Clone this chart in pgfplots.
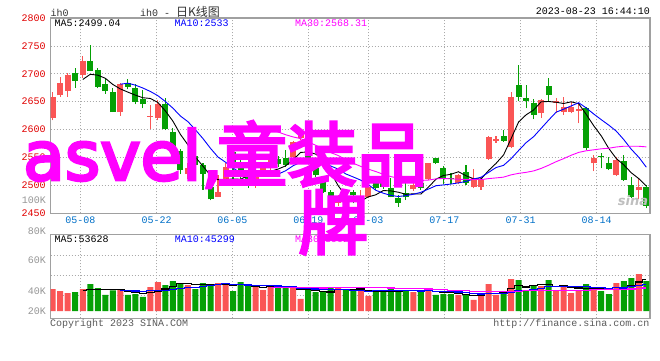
\documentclass[border=0pt]{standalone}
\usepackage{fontspec}
\usepackage{pgfplots}
\usepackage{pgfplotstable}
\pgfplotsset{compat=1.18}
\setmainfont{Liberation Mono}
\newfontfamily\cjk{Noto Sans CJK SC}
\newfontfamily\wmlat[FakeBold=4]{DejaVu Sans}
\newfontfamily\wmcjk[FakeBold=4]{Noto Sans CJK SC}
\newfontfamily\logofont{DejaVu Sans}
\definecolor{cred}{RGB}{250,85,85}
\definecolor{cgreen}{RGB}{5,160,5}
\definecolor{framegray}{RGB}{160,160,160}
\definecolor{gridgray}{RGB}{170,170,170}
\definecolor{tickred}{RGB}{225,0,0}
\definecolor{tickblue}{RGB}{0,112,200}
\definecolor{volgray}{RGB}{150,150,150}
\definecolor{mag}{RGB}{255,0,255}
\definecolor{mablue}{RGB}{0,0,255}
\definecolor{txtgray}{RGB}{90,90,90}

% candles: k open high low close
\pgfplotstableread{
k O H L C
1 2620 2668 2616.6 2658.5
2 2661.5 2694 2658.5 2684
3 2669 2701 2658.5 2697
5 2698 2731.5 2693 2722.5
10 2631.5 2684 2624.5 2682.5
14 2623.5 2643.5 2600.5 2625
15 2620 2653.7 2616.6 2646.5
19 2520 2540 2512 2531
23 2480 2519 2479 2489
24 2511 2541 2509 2533
28 2505 2528 2496 2522
29 2527.6 2538 2522 2533
30 2531 2550 2528 2545.5
33 2550.4 2580 2548 2578.3
34 2585 2600 2582 2597
39 2468 2482 2463 2477
42 2464.9 2491.8 2461.8 2479.7
43 2479.7 2500 2478 2497.7
49 2493 2504.3 2490 2500.7
51 2511 2541 2510 2540.7
55 2503.8 2520 2502 2518.6
57 2496.6 2528.8 2494.8 2512.7
58 2496.6 2515.6 2491.8 2509.7
59 2547.3 2588 2546 2587.3
60 2579.6 2588.5 2576.5 2583.1
62 2568.3 2667 2567 2659
66 2629.2 2654.8 2620.8 2653
68 2648.2 2656 2629.2 2651.8
69 2632 2659 2626.2 2641
70 2632 2650 2629.2 2641
71 2633.9 2647 2611.3 2636.4
73 2539.6 2554.5 2525.8 2549.6
76 2518.6 2551.4 2516.8 2545.5
79 2491.8 2512.7 2475 2497.7
}\redk
\pgfplotstableread{
k O H L C
4 2701 2710.5 2675 2687
6 2722.5 2752 2705 2705
7 2706 2711 2674 2676.5
8 2682.5 2692 2664.5 2669
9 2667 2675 2631.5 2631.5
11 2684 2690 2672 2676.5
12 2674 2681 2645 2649.5
13 2655.5 2670.5 2638 2645.3
16 2646.5 2656 2599 2600.5
17 2595 2602 2552 2558
18 2562 2566 2520 2527
20 2552.6 2556 2533 2536
21 2537 2540 2492 2520
22 2498 2519 2473 2475
25 2560 2565 2511 2540
26 2538 2549 2512 2518
27 2520 2525 2495 2508
31 2547 2553 2533 2538
32 2549 2563 2533.5 2536.6
35 2592 2598 2547 2550
36 2530.6 2545.5 2515 2518.6
37 2506.6 2510 2486 2488.7
38 2488 2492 2458 2462
40 2478 2482 2455 2460
41 2488.7 2491.8 2468 2482.8
44 2506 2510 2492 2496
45 2510 2513 2494 2497.7
46 2495.3 2512.7 2478.7 2479.2
47 2477.4 2482.7 2462 2468.5
48 2486.9 2503.8 2473.8 2478.7
50 2504.3 2509.7 2491.8 2495.3
52 2548.6 2550 2538 2539.6
53 2531.2 2534.8 2502.5 2512.7
54 2513.3 2521.7 2502.5 2511
56 2524.5 2536.5 2500.7 2504.8
61 2588.5 2599.3 2578 2579.6
63 2680 2716 2651.8 2659
64 2656 2680 2638.2 2651.8
65 2647.1 2654.3 2618.4 2626.2
67 2678 2692 2650 2662
72 2639.2 2640 2563.4 2566.5
74 2552.7 2557.5 2530.6 2550.4
75 2540.7 2551.4 2527.6 2528.8
77 2543.7 2554.5 2508.4 2509.7
78 2500.7 2515.6 2476.9 2478.7
80 2497.7 2500.7 2459 2463.1
}\greenk
% volume (thousand contracts)
\pgfplotstableread{
k V
1 37.3
2 33.9
3 30.5
5 37.3
10 37.3
14 40.7
15 49.2
19 44.1
23 47.5
24 45.8
28 40.7
29 35.6
30 42.4
33 42.4
34 20.4
39 39.0
42 39.0
43 25.5
49 32.2
51 37.3
55 27.2
57 18.7
58 27.2
59 45.8
60 27.2
62 54.3
66 42.4
68 35.6
69 40.7
70 30.5
71 35.6
73 40.7
76 47.5
79 62.8
}\redv
\pgfplotstableread{
k V
4 32.2
6 45.8
7 39.0
8 27.2
9 35.1
11 27.2
12 28.8
13 23.8
16 44.1
17 50.9
18 47.5
20 37.3
21 47.5
22 45.8
25 33.9
26 49.2
27 42.4
31 40.7
32 40.7
35 35.6
36 32.2
37 33.9
38 39.0
40 35.6
41 33.9
44 33.9
45 33.9
46 37.3
47 35.6
48 35.6
50 32.2
52 27.2
53 28.8
54 28.8
56 28.8
61 33.9
63 52.6
64 35.6
65 42.4
67 52.6
72 45.8
74 33.9
75 28.8
77 50.9
78 56.0
80 50.9
}\greenv

\pgfplotsset{
  sinaaxis/.style={
    scale only axis, width=599.3pt,
    xmin=0.734, xmax=80.49,
    axis line style={draw=framegray, line width=1.3pt},
    major tick length=0pt,
    grid=major,
    grid style={draw=gridgray, line width=0.8pt, dash pattern=on 1pt off 2pt},
    xtick={4.67,14.84,24.9,35.02,43.0,53.12,63.28,73.4},
    ticklabel style={font=\fontsize{10}{12}\selectfont},
  }
}

\begin{document}
\begin{tikzpicture}[font=\fontsize{10}{12}\selectfont]
\path[use as bounding box] (0,0) rectangle (660pt,360pt);
\fill[white] (0,0) rectangle (660pt,360pt);

% ---------- price panel ----------
\begin{axis}[sinaaxis,
  at={(50.7pt,146.7pt)}, anchor=south west, height=195.3pt,
  ymin=2450, ymax=2800,
  ytick={2450,2500,2550,2600,2650,2700,2750,2800},
  yticklabels={2450,2500,2550,2600,2650,2700,2750,2800},
  yticklabel style={text=tickred, xshift=-1.5pt},
  xticklabels={05-08,05-22,06-05,06-19,07-03,07-17,07-31,08-14},
  xticklabel style={text=tickblue},
]
% wicks
\addplot[draw=none, mark=none, forget plot, error bars/.cd, y dir=plus, y explicit, error mark=none,
  error bar style={draw=cred, line width=1.1pt}]
  table[x=k, y=L, y error expr=\thisrow{H}-\thisrow{L}] {\redk};
\addplot[draw=none, mark=none, forget plot, error bars/.cd, y dir=plus, y explicit, error mark=none,
  error bar style={draw=cgreen, line width=1.1pt}]
  table[x=k, y=L, y error expr=\thisrow{H}-\thisrow{L}] {\greenk};
% bodies
\addplot[draw=none, mark=none, forget plot, error bars/.cd, y dir=plus, y explicit, error mark=none,
  error bar style={draw=cred, line width=6pt}]
  table[x=k, y=O, y error expr=\thisrow{C}-\thisrow{O}] {\redk};
\addplot[draw=none, mark=none, forget plot, error bars/.cd, y dir=plus, y explicit, error mark=none,
  error bar style={draw=cgreen, line width=6pt}]
  table[x=k, y=C, y error expr=\thisrow{O}-\thisrow{C}] {\greenk};
% MA5
\addplot[black, line width=0.9pt, mark=none] coordinates {(5,2689.8)(6,2699.1)(7,2697.6)(8,2692)(9,2680.9)(10,2672.9)(11,2667.2)(12,2661.8)(13,2657.1)(14,2655.8)(15,2648.6)(16,2633.4)(17,2615.1)(18,2591.4)(19,2572.6)(20,2550.5)(21,2534.4)(22,2517.8)(23,2510.2)(24,2510.6)(25,2511.4)(26,2511)(27,2517.6)(28,2524.2)(29,2524.2)(30,2525.3)(31,2529.3)(32,2535)(33,2546.3)(34,2559.1)(35,2560)(36,2556.1)(37,2546.5)(38,2523.3)(39,2499.3)(40,2481.3)(41,2474.1)(42,2472.3)(43,2479.4)(44,2483.2)(45,2490.8)(46,2490.1)(47,2487.8)(48,2484)(49,2485)(50,2484.5)(51,2496.8)(52,2511)(53,2517.8)(54,2519.9)(55,2524.5)(56,2517.3)(57,2512)(58,2511.4)(59,2526.6)(60,2539.5)(61,2554.5)(62,2583.7)(63,2613.6)(64,2626.5)(65,2635.1)(66,2649.8)(67,2650.4)(68,2649)(69,2646.8)(70,2649.8)(71,2646.4)(72,2627.3)(73,2606.9)(74,2588.8)(75,2566.3)(76,2548.2)(77,2536.8)(78,2522.6)(79,2512.1)(80,2498.9)};
% MA10
\addplot[mablue, line width=0.9pt, mark=none] coordinates {(10,2681.35)(11,2683.15)(12,2679.7)(13,2674.53)(14,2668.33)(15,2660.73)(16,2650.28)(17,2638.43)(18,2624.23)(19,2614.18)(20,2599.53)(21,2583.88)(22,2566.43)(23,2550.8)(24,2541.6)(25,2530.95)(26,2522.7)(27,2517.7)(28,2517.2)(29,2517.4)(30,2518.35)(31,2520.15)(32,2526.31)(33,2535.24)(34,2541.64)(35,2542.64)(36,2542.7)(37,2540.77)(38,2534.77)(39,2529.17)(40,2520.62)(41,2515.1)(42,2509.41)(43,2501.35)(44,2491.25)(45,2486.02)(46,2482.08)(47,2480.06)(48,2481.73)(49,2484.1)(50,2487.63)(51,2493.42)(52,2499.41)(53,2500.91)(54,2502.41)(55,2504.5)(56,2507.06)(57,2511.48)(58,2514.58)(59,2523.24)(60,2532.02)(61,2535.91)(62,2547.85)(63,2562.48)(64,2576.56)(65,2587.32)(66,2602.14)(67,2617.07)(68,2631.28)(69,2636.65)(70,2642.44)(71,2648.12)(72,2638.87)(73,2627.93)(74,2617.79)(75,2608.05)(76,2597.3)(77,2582.07)(78,2564.76)(79,2550.43)(80,2532.64)};
% MA30
\addplot[mag, line width=0.9pt, mark=none] coordinates {(30,2599.74)(31,2595.73)(32,2590.81)(33,2586.86)(34,2583.86)(35,2578.11)(36,2571.89)(37,2565.63)(38,2558.73)(39,2553.58)(40,2546.17)(41,2539.71)(42,2534.05)(43,2529.13)(44,2524.83)(45,2519.87)(46,2515.83)(47,2512.84)(48,2511.23)(49,2510.22)(50,2508.87)(51,2509.56)(52,2511.71)(53,2512.5)(54,2511.77)(55,2511.05)(56,2510.61)(57,2510.77)(58,2510.36)(59,2512.17)(60,2513.42)(61,2514.81)(62,2518.89)(63,2521.58)(64,2523.41)(65,2525.95)(66,2530.43)(67,2536.2)(68,2542.53)(69,2548)(70,2554.03)(71,2559.15)(72,2562.04)(73,2563.77)(74,2565.59)(75,2566.62)(76,2568.83)(77,2570.21)(78,2570.21)(79,2570.11)(80,2569.03)};
\end{axis}

% ---------- volume panel ----------
\begin{axis}[sinaaxis,
  at={(50.7pt,41.7pt)}, anchor=south west, height=84pt,
  ymin=-12.39, ymax=130.2,
  ytick={26.0,59.9,93.8}, yticklabels={,,},
  xticklabels={,,,,,,,},
]
\addplot[ybar, bar width=6pt, bar shift=0pt, fill=cred, draw=none, forget plot] table[x=k, y=V] {\redv};
\addplot[ybar, bar width=6pt, bar shift=0pt, fill=cgreen, draw=none, forget plot] table[x=k, y=V] {\greenv};
\addplot[const plot mark mid, black, line width=1.1pt, mark=none] coordinates {(5,34.24)(6,35.94)(7,36.96)(8,36.3)(9,36.88)(10,36.88)(11,33.16)(12,31.12)(13,30.44)(14,31.56)(15,33.94)(16,37.32)(17,41.74)(18,46.48)(19,47.16)(20,44.78)(21,45.46)(22,44.44)(23,44.44)(24,44.78)(25,44.1)(26,44.44)(27,43.76)(28,42.4)(29,40.36)(30,42.06)(31,40.36)(32,40.02)(33,40.36)(34,37.32)(35,35.96)(36,34.26)(37,32.9)(38,32.22)(39,35.94)(40,35.94)(41,36.28)(42,37.3)(43,34.6)(44,33.58)(45,33.24)(46,33.92)(47,33.24)(48,35.26)(49,34.92)(50,34.58)(51,34.58)(52,32.9)(53,31.54)(54,30.86)(55,29.86)(56,28.16)(57,26.46)(58,26.14)(59,29.54)(60,29.54)(61,30.56)(62,37.68)(63,42.76)(64,40.72)(65,43.76)(66,45.46)(67,45.12)(68,41.72)(69,42.74)(70,40.36)(71,39)(72,37.64)(73,38.66)(74,37.3)(75,36.96)(76,39.34)(77,40.36)(78,43.42)(79,49.2)(80,53.62)};
\addplot[const plot mark mid, mablue, line width=1.1pt, mark=none] coordinates {(10,35.56)(11,34.55)(12,34.04)(13,33.37)(14,34.22)(15,35.41)(16,35.24)(17,36.43)(18,38.46)(19,39.36)(20,39.36)(21,41.39)(22,43.09)(23,45.46)(24,45.97)(25,44.44)(26,44.95)(27,44.1)(28,43.42)(29,42.57)(30,43.08)(31,42.4)(32,41.89)(33,41.38)(34,38.84)(35,39.01)(36,37.31)(37,36.46)(38,36.29)(39,36.63)(40,35.95)(41,35.27)(42,35.1)(43,33.41)(44,34.76)(45,34.59)(46,35.1)(47,35.27)(48,34.93)(49,34.25)(50,33.91)(51,34.25)(52,33.07)(53,33.4)(54,32.89)(55,32.22)(56,31.37)(57,29.68)(58,28.84)(59,30.2)(60,29.7)(61,29.36)(62,32.07)(63,34.45)(64,35.13)(65,36.65)(66,38.01)(67,41.4)(68,42.24)(69,41.73)(70,42.06)(71,42.23)(72,41.38)(73,40.19)(74,40.02)(75,38.66)(76,39.17)(77,39)(78,41.04)(79,43.25)(80,45.29)};
\addplot[const plot mark mid, mag, line width=1.1pt, mark=none] coordinates {(30,39.33)(31,39.45)(32,39.67)(33,40.07)(34,39.68)(35,39.62)(36,39.17)(37,39.0)(38,39.39)(39,39.52)(40,39.46)(41,39.69)(42,40.03)(43,40.08)(44,39.86)(45,39.35)(46,39.12)(47,38.61)(48,38.21)(49,37.82)(50,37.65)(51,37.31)(52,36.69)(53,36.06)(54,35.5)(55,35.27)(56,34.59)(57,33.8)(58,33.35)(59,33.69)(60,33.19)(61,32.96)(62,33.41)(63,33.75)(64,34.26)(65,34.49)(66,34.83)(67,35.45)(68,35.34)(69,35.39)(70,35.22)(71,35.28)(72,35.51)(73,36.01)(74,36.01)(75,35.84)(76,36.18)(77,36.69)(78,37.37)(79,38.39)(80,39.02)};
\end{axis}

% ---------- texts ----------
\begin{scope}[every node/.style={inner sep=0pt}]
\node[anchor=west, text=black!80] at (50.5pt,347.5pt) {ih0};
\node[anchor=west, text=black!80] at (140pt,348.5pt) {ih0 -  {\cjk\fontsize{12}{12}\selectfont 日K线图}};
\node[anchor=east, text=black] at (650pt,348.5pt) {2023-08-23 16:44:10};
\node[anchor=west, text=black] at (54.3pt,336.5pt) {MA5:2499.04};
\node[anchor=west, text=mablue] at (174.3pt,336.5pt) {MA10:2533};
\node[anchor=west, text=mag] at (295pt,336.5pt) {MA30:2568.31};
\node[anchor=west, text=black] at (54.3pt,121pt) {MA5:53628};
\node[anchor=west, text=mablue] at (174.7pt,121pt) {MA10:45299};
\node[anchor=west, text=mag] at (295pt,121pt) {MA30:39021};
\node[anchor=east, text=volgray] at (46pt,160pt) {100K};
\node[anchor=east, text=volgray] at (46pt,129pt) {80K};
\node[anchor=east, text=volgray] at (46pt,100pt) {60K};
\node[anchor=east, text=volgray] at (46pt,69.3pt) {40K};
\node[anchor=east, text=volgray] at (46pt,49pt) {20K};
\node[anchor=west, text=txtgray] at (50pt,36pt) {Copyright 2023 SINA.COM};
\node[anchor=east, text=txtgray] at (649.5pt,36pt) {http://finance.sina.com.cn};
\node[anchor=center, text=black!25] at (633pt,159pt) {\logofont\bfseries\itshape\fontsize{13}{13}\selectfont sina};
% watermark
\node[anchor=base west, text=mag] at (23pt,180pt) {\wmlat\fontsize{68}{68}\selectfont asvel,};
\node[anchor=base west, text=mag] at (217pt,179.5pt) {\wmcjk\fontsize{70}{70}\selectfont 童装品};
\node[anchor=base west, text=mag] at (298pt,111.2pt) {\wmcjk\fontsize{70}{70}\selectfont 牌};
\end{scope}
\end{tikzpicture}
\end{document}
